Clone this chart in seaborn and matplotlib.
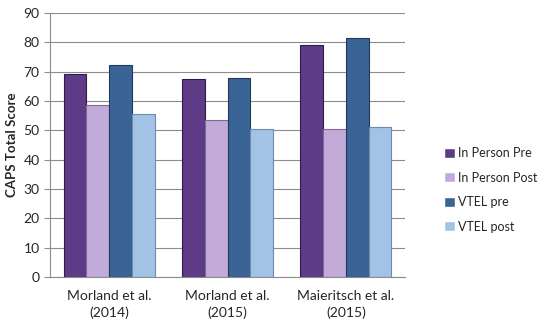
import numpy as np
import pandas as pd
import matplotlib
matplotlib.use("Agg")
import matplotlib.pyplot as plt
import seaborn as sns

studies = ["Morland et al.\n(2014)", "Morland et al.\n(2015)", "Maieritsch et al.\n(2015)"]
groups = ["In Person Pre", "In Person Post", "VTEL pre", "VTEL post"]
in_person_pre = [69.2, 67.5, 79.0]
in_person_post = [58.6, 53.5, 50.6]
vtel_pre = [72.2, 67.8, 81.6]
vtel_post = [55.6, 50.5, 51.2]
colors = ["#5E3B86", "#C2ABD8", "#3A6496", "#A3C3E6"]
edges = ["#2E1D45", "#7E6B94", "#1F3A5C", "#6C8BAE"]

df = pd.DataFrame({
    "study": studies * 4,
    "group": [g for g in groups for _ in studies],
    "score": in_person_pre + in_person_post + vtel_pre + vtel_post,
})

sns.set_style("white")
plt.rcParams['font.family'] = ['Lato', 'DejaVu Sans']

fig = plt.figure(figsize=(5.43, 3.23), dpi=100)
ax = fig.add_axes([50 / 543, 46 / 323, 355 / 543, 264 / 323])
sns.barplot(data=df, x="study", y="score", hue="group", hue_order=groups,
            palette=colors, width=0.77, ax=ax, legend=True, saturation=1)

for i, cont in enumerate(ax.containers):
    for bar in cont:
        bar.set_edgecolor(edges[i])
        bar.set_linewidth(0.8)

ax.set_ylim(0, 90)
ax.set_yticks(range(0, 91, 10))
ax.set_xlim(-0.5, 2.5)
ax.yaxis.grid(True, color="#8c8c8c", linewidth=0.8)
ax.set_axisbelow(True)
for s in ["top", "right"]:
    ax.spines[s].set_visible(False)
for s in ["left", "bottom"]:
    ax.spines[s].set_color("#8c8c8c")
ax.set_xticks([-0.5, 0.5, 1.5, 2.5], minor=True)
ax.tick_params(axis="x", which="major", length=0, labelsize=10, pad=9)
ax.tick_params(axis="x", which="minor", length=5, color="#8c8c8c")
ax.tick_params(axis="y", length=4, color="#8c8c8c", labelsize=10, left=True)
for t in ax.get_xticklabels():
    t.set_linespacing(1.45)
ax.set_xlabel("")
ax.set_ylabel("CAPS Total Score", fontsize=9.5, fontweight="bold")

h, l = ax.get_legend_handles_labels()
ax.legend(h, l, loc="center left", bbox_to_anchor=(1.11, 0.33), frameon=False,
          fontsize=9, handlelength=0.85, handleheight=0.85, handletextpad=0.3,
          labelspacing=1.0, borderpad=0, borderaxespad=0)

fig.savefig("out.png", dpi=100)
